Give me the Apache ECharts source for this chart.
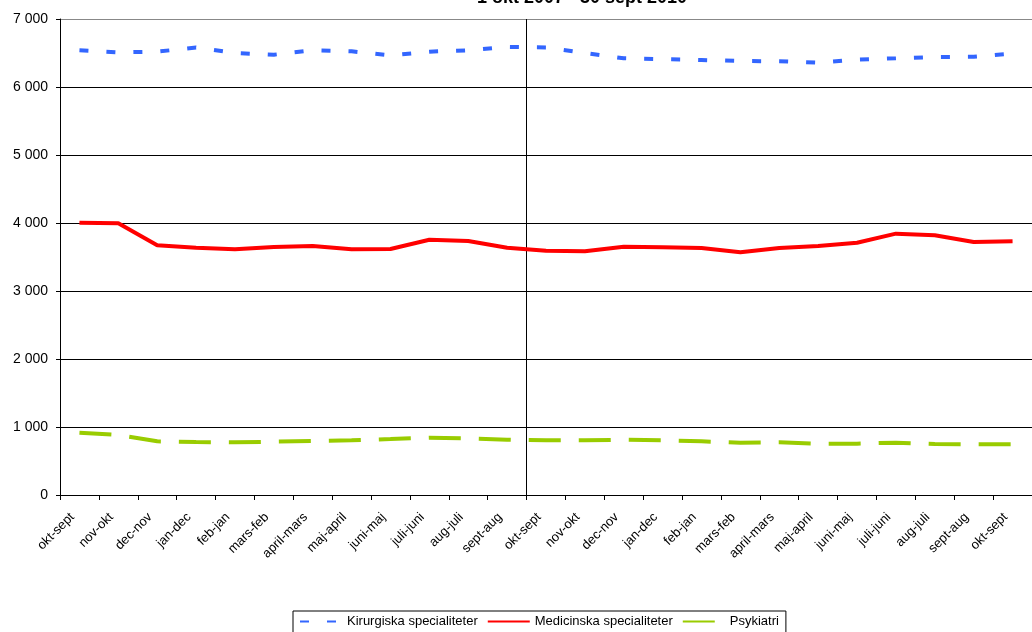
<!DOCTYPE html>
<html>
<head>
<meta charset="utf-8">
<script src="https://cdn.jsdelivr.net/npm/echarts@6/dist/echarts.min.js"></script>
<style>
html,body{margin:0;padding:0;background:#fff;}
#chart{width:1032px;height:632px;}
</style>
</head>
<body>
<div id="chart"></div>
<script>
var titleText = '1 okt 2007 - 30 sept 2010';
var categories = [
  'okt-sept','nov-okt','dec-nov','jan-dec','feb-jan','mars-feb','april-mars','maj-april','juni-maj','juli-juni','aug-juli','sept-aug',
  'okt-sept','nov-okt','dec-nov','jan-dec','feb-jan','mars-feb','april-mars','maj-april','juni-maj','juli-juni','aug-juli','sept-aug','okt-sept'
];
var seriesNames = ['Kirurgiska specialiteter','Medicinska specialiteter','Psykiatri'];
var kirurgiska = [6540,6510,6520,6580,6500,6475,6540,6525,6465,6520,6540,6590,
                  6582,6500,6422,6410,6397,6382,6379,6357,6404,6422,6441,6446,6493];
var medicinska = [4004,3995,3672,3637,3613,3647,3662,3613,3618,3754,3735,3637,
                  3593,3584,3652,3642,3632,3569,3632,3662,3710,3843,3819,3721,3731];
var psykiatri = [916,882,789,779,775,784,794,804,823,843,833,814,
                 804,804,814,804,789,770,775,755,755,770,750,745,745];
var yTicks = [0,1000,2000,3000,4000,5000,6000,7000];
var dividerIndex = 12;

function fmt(v){
  var s = String(v);
  return s.replace(/\B(?=(\d{3})+(?!\d))/g, ' ');
}

var chart = echarts.init(document.getElementById('chart'), null, {renderer:'canvas'});
var font = 'Liberation Sans, Arial, sans-serif';
chart.setOption({
  backgroundColor:'#ffffff',
  animation:false,
  textStyle:{fontFamily:font},
  title:{
    text:titleText, left:577, textAlign:'center', top:-16,
    textStyle:{fontFamily:font, fontSize:18, fontWeight:'bold', color:'#000'}
  },
  grid:{left:60, right:-9, top:19, bottom:137, containLabel:false},
  xAxis:{
    type:'category', data:categories, boundaryGap:true,
    axisLine:{show:true, lineStyle:{color:'#000', width:1}},
    axisTick:{show:true, alignWithLabel:false, length:5, lineStyle:{color:'#000'}},
    axisLabel:{interval:0, rotate:45, margin:13, padding:[0,10,0,0], fontSize:13, color:'#000', fontFamily:font},
    splitLine:{show:true, interval:function(i){return i===0 || i===dividerIndex;},
               lineStyle:{color:'#000', width:1}}
  },
  yAxis:{
    type:'value', min:yTicks[0], max:yTicks[yTicks.length-1], interval:1000,
    axisLine:{show:true, lineStyle:{color:'#000', width:1}},
    axisTick:{show:true, length:4, lineStyle:{color:'#000'}},
    axisLabel:{fontSize:14, color:'#000', margin:12, fontFamily:font, formatter:function(v){return fmt(v);}},
    splitLine:{show:true, lineStyle:{color:['#000','#000','#000','#000','#000','#000','#000','#888'], width:1}}
  },
  legend:{
    data:seriesNames, left:293, top:611, orient:'horizontal',
    itemWidth:42, itemHeight:10, itemGap:9,
    padding:[4,7,6,6],
    borderColor:'#000', borderWidth:1,
    itemStyle:{opacity:0},
    textStyle:{fontSize:13, color:'#000', fontFamily:font}
  },
  series:[
    {name:seriesNames[0], type:'line', data:kirurgiska, symbol:'none', z:3,
     lineStyle:{color:'#3366FF', width:4, type:[9,18]}, itemStyle:{color:'#3366FF'}},
    {name:seriesNames[1], type:'line', data:medicinska, symbol:'none', z:3,
     lineStyle:{color:'#FF0000', width:4, type:'solid'}, itemStyle:{color:'#FF0000'}},
    {name:seriesNames[2], type:'line', data:psykiatri, symbol:'none', z:3,
     lineStyle:{color:'#99CC00', width:4, type:[32,18]}, itemStyle:{color:'#99CC00'}}
  ]
});
</script>
</body>
</html>
